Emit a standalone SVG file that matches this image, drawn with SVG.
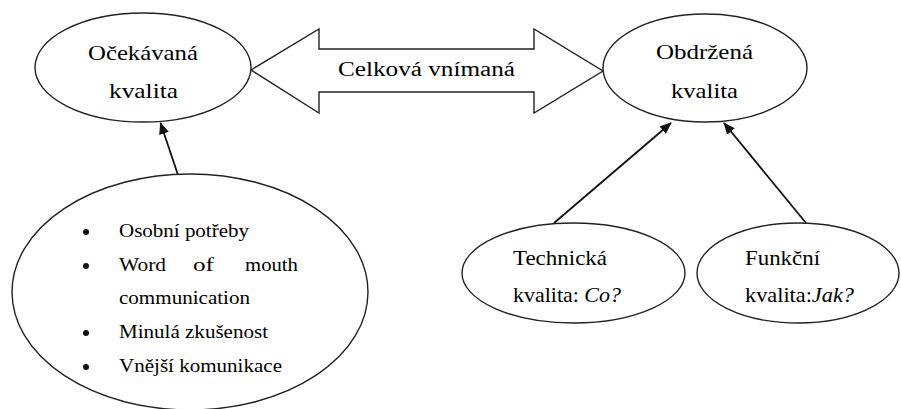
<svg xmlns="http://www.w3.org/2000/svg" width="901" height="409" viewBox="0 0 901 409">
<defs>
<marker id="ah" viewBox="0 0 12 10" refX="11" refY="5" markerWidth="12" markerHeight="10" markerUnits="userSpaceOnUse" orient="auto">
<path d="M0,0 L12,5 L0,10 z" fill="#111"/>
</marker>
</defs>
<rect width="901" height="409" fill="#fff"/>
<g id="connectors" stroke="#111" stroke-width="1.8" fill="none">
<path d="M178,175 L160.5,123" marker-end="url(#ah)"/>
<path d="M554,223 L671,123" marker-end="url(#ah)"/>
<path d="M806,223 L724,123" marker-end="url(#ah)"/>
</g>
<g id="double-arrow">
<polygon fill="#fff" stroke="#222" stroke-width="1.4" points="251,70 319,29 319,49 534,49 534,29 603,71 534,113 534,92 319,92 319,113"/>
<text font-family="serif" font-size="20" x="338" y="76" textLength="177" lengthAdjust="spacingAndGlyphs">Celková vnímaná</text>
</g>
<g id="ocekavana">
<ellipse fill="#fff" stroke="#222" stroke-width="1.4" cx="143" cy="67.5" rx="108" ry="54.5"/>
<text font-family="serif" font-size="21" x="88" y="60" textLength="110" lengthAdjust="spacingAndGlyphs">Očekávaná</text>
<text font-family="serif" font-size="21" x="109" y="98" textLength="69" lengthAdjust="spacingAndGlyphs">kvalita</text>
</g>
<g id="obdrzena">
<ellipse fill="#fff" stroke="#222" stroke-width="1.4" cx="705" cy="68" rx="102" ry="54"/>
<text font-family="serif" font-size="21" x="656" y="59" textLength="97" lengthAdjust="spacingAndGlyphs">Obdržená</text>
<text font-family="serif" font-size="21" x="671" y="98" textLength="67" lengthAdjust="spacingAndGlyphs">kvalita</text>
</g>
<g id="faktory">
<ellipse fill="#fff" stroke="#222" stroke-width="1.4" cx="190" cy="292" rx="178" ry="118"/>
<circle cx="86" cy="232" r="3" fill="#111"/>
<circle cx="86" cy="266" r="3" fill="#111"/>
<circle cx="86" cy="333" r="3" fill="#111"/>
<circle cx="86" cy="367" r="3" fill="#111"/>
<text font-family="serif" font-size="18" x="119" y="237" textLength="130" lengthAdjust="spacingAndGlyphs">Osobní potřeby</text>
<text font-family="serif" font-size="18" x="119" y="271" textLength="47" lengthAdjust="spacingAndGlyphs">Word</text>
<text font-family="serif" font-size="18" x="193" y="271" textLength="21" lengthAdjust="spacingAndGlyphs">of</text>
<text font-family="serif" font-size="18" x="245" y="271" textLength="53" lengthAdjust="spacingAndGlyphs">mouth</text>
<text font-family="serif" font-size="18" x="119" y="304" textLength="131" lengthAdjust="spacingAndGlyphs">communication</text>
<text font-family="serif" font-size="18" x="119" y="338" textLength="149" lengthAdjust="spacingAndGlyphs">Minulá zkušenost</text>
<text font-family="serif" font-size="18" x="119" y="372" textLength="163" lengthAdjust="spacingAndGlyphs">Vnější komunikace</text>
</g>
<g id="technicka">
<ellipse fill="#fff" stroke="#222" stroke-width="1.4" cx="573.5" cy="273" rx="111.5" ry="50"/>
<text font-family="serif" font-size="21" x="513" y="265" textLength="94" lengthAdjust="spacingAndGlyphs">Technická</text>
<text font-family="serif" font-size="21" x="513" y="302" textLength="108" lengthAdjust="spacingAndGlyphs">kvalita: <tspan font-style="italic">Co?</tspan></text>
</g>
<g id="funkcni">
<ellipse fill="#fff" stroke="#222" stroke-width="1.4" cx="798" cy="273" rx="101" ry="50"/>
<text font-family="serif" font-size="21" x="745" y="265" textLength="75" lengthAdjust="spacingAndGlyphs">Funkční</text>
<text font-family="serif" font-size="21" x="745" y="302" textLength="109" lengthAdjust="spacingAndGlyphs">kvalita:<tspan font-style="italic">Jak?</tspan></text>
</g>
</svg>
